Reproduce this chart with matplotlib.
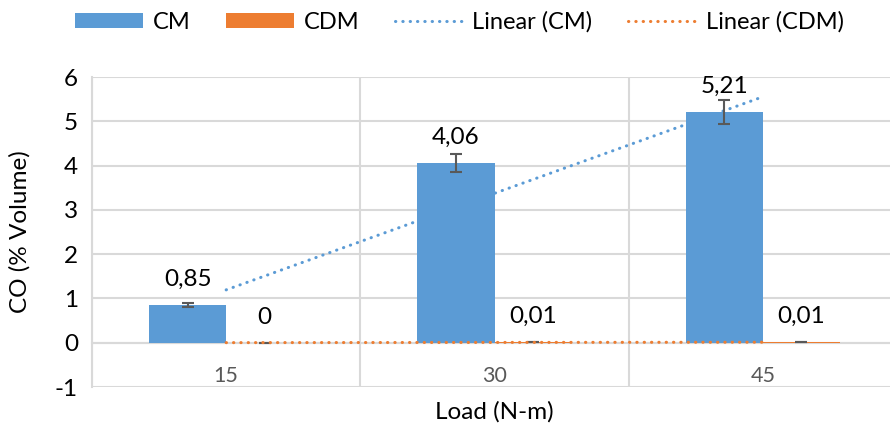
import matplotlib
matplotlib.use("Agg")
import matplotlib.pyplot as plt
import numpy as np

plt.rcParams['font.family'] = ['Lato', 'DejaVu Sans']
plt.rcParams['axes.unicode_minus'] = False

loads = ['15', '30', '45']
cm = [0.85, 4.06, 5.21]
cdm = [0.0, 0.01, 0.01]
cm_err = [0.05, 0.2, 0.26]
cdm_err = [0.0, 0.0, 0.0]

blue = '#5B9BD5'
orange = '#ED7D31'
grid_c = '#D9D9D9'

fig = plt.figure(figsize=(8.9, 4.32), dpi=100)
ax = fig.add_axes([92 / 890, 1 - 387 / 432, 805 / 890, 310 / 432])

x = np.arange(len(loads))
w = 0.287

# trendlines: blue one behind the bars, orange one on top
for vals, col, name, z in [(cm, blue, 'Linear (CM)', 2.7), (cdm, orange, 'Linear (CDM)', 4)]:
    k, b = np.polyfit(x + 1, vals, 1)
    ax.plot(x, k * (x + 1) + b, color=col, lw=2.2, linestyle=(0, (0.1, 2.3)),
            dash_capstyle='round', zorder=z, label=name)

ekw = dict(ecolor='#595959', elinewidth=1.5, capsize=4.5, capthick=1.5)
ax.bar(x - w / 2, cm, w, color=blue, yerr=cm_err, error_kw=ekw, zorder=3, label='CM')
ax.bar(x + w / 2, cdm, w, color=orange, yerr=cdm_err, error_kw=ekw, zorder=3, label='CDM')

for xs, vals in [(x - w / 2, cm), (x + w / 2, cdm)]:
    for xi, v in zip(xs, vals):
        ax.annotate(f"{v:g}".replace('.', ','), (xi, v), xytext=(0, 18.5),
                    textcoords='offset points', ha='center', va='center',
                    fontsize=17.5, color='black', zorder=5)

ax.set_xlim(-0.5, 2.5)
ax.set_ylim(-1, 6)
ax.set_yticks(range(-1, 7))
ax.set_xticks(x)
ax.set_xticklabels(loads)
ax.set_xticks(np.arange(-0.5, 3, 1), minor=True)
ax.tick_params(axis='y', length=0, pad=10, labelsize=17.5)
ax.tick_params(axis='x', which='major', length=0, pad=17, labelsize=15.5,
               labelcolor='#595959')
ax.tick_params(axis='x', which='minor', length=0)
ax.grid(axis='y', color=grid_c, lw=1.5, zorder=0)
ax.grid(axis='x', which='minor', color=grid_c, lw=1.5, zorder=0)

for s in ['top', 'right']:
    ax.spines[s].set_visible(False)
ax.spines['left'].set_color(grid_c)
ax.spines['left'].set_linewidth(1.5)
ax.spines['bottom'].set_position(('data', 0))
ax.spines['bottom'].set_color(grid_c)
ax.spines['bottom'].set_linewidth(1.5)

ax.set_xlabel('Load (N-m)', fontsize=17.5)
ax.xaxis.set_label_coords(0.5, -0.045)
ax.set_ylabel('CO (% Volume)', fontsize=17.5)
ax.yaxis.set_label_coords(-0.076, 0.5)

h, l = ax.get_legend_handles_labels()
order = [2, 3, 0, 1]
fig.legend([h[i] for i in order], [l[i] for i in order], loc='center',
           bbox_to_anchor=(0.516, 0.949), ncol=4, frameon=False, fontsize=17,
           handlelength=2.9, handleheight=0.6, handletextpad=0.4, columnspacing=1.5)

fig.savefig('out.png', dpi=100)
